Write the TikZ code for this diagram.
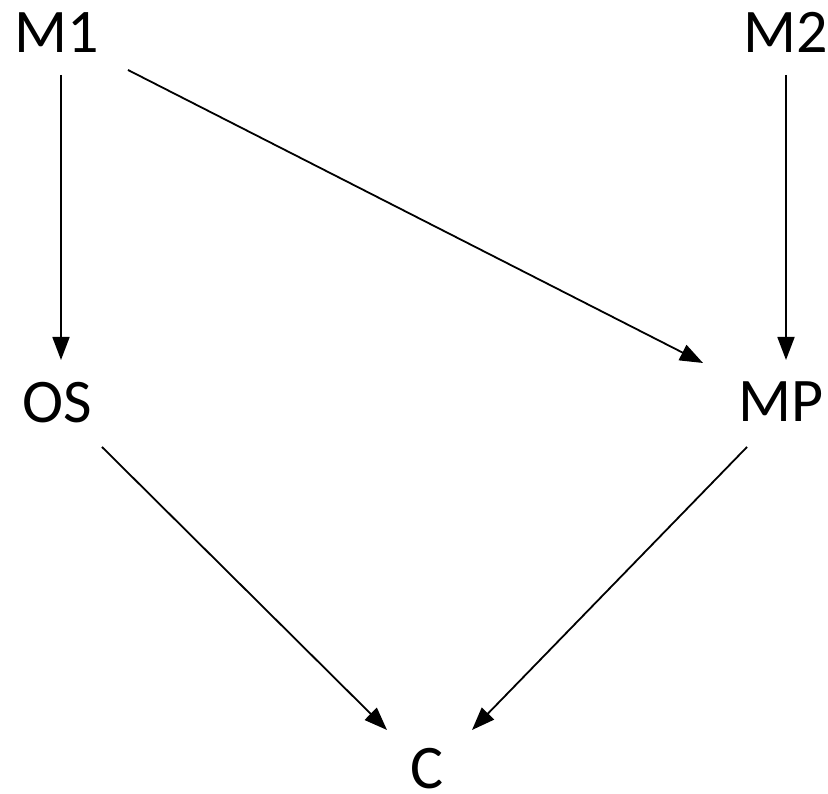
\documentclass[tikz,border=0pt]{standalone}
\usepackage{fontspec}
\setmainfont{Carlito}
\usetikzlibrary{arrows.meta,calc}
\begin{document}
\begin{tikzpicture}[x=1pt,y=1pt,
  var/.style={anchor=base,inner sep=0pt,font=\fontsize{62}{74}\selectfont},
  arr/.style={line width=1.8pt,-{Triangle[length=23pt,width=17pt]}}]
\useasboundingbox (0,0) rectangle (828,794);
% variables
\node[var] (M1) at (57,741) {M1};
\node[var] (M2) at (786,741) {M2};
\node[var] (OS) at (57,371) {OS};
\node[var] (MP) at (781,372) {MP};
\node[var] (C)  at (427,5)   {C};
% dependencies
\draw[arr] ($(M1.base)+(4,-22)$) -- ($(OS.base)+(4,63)$);
\draw[arr] ($(M1.base)+(71,-17)$) -- ($(MP.base)+(-78,59)$);
\draw[arr] ($(M2.base)+(0,-22)$) -- ($(MP.base)+(5,62)$);
\draw[arr] ($(OS.base)+(45,-24)$) -- ($(C.base)+(-40,59)$);
\draw[arr] ($(MP.base)+(-34,-25)$) -- ($(C.base)+(45,59)$);
\end{tikzpicture}
\end{document}
